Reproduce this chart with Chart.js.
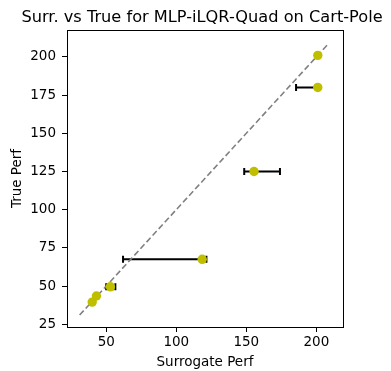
<!DOCTYPE html>
<html>
<head>
<meta charset="utf-8">
<script src="https://cdn.jsdelivr.net/npm/chart.js@4"></script>
<style>
  html, body { margin: 0; padding: 0; background: #fff; }
  canvas { display: block; }
</style>
</head>
<body>
<canvas id="chart" width="391" height="371"></canvas>
<script>
// values
const surrogatePerf = [201, 201, 155.5, 118.5, 53, 43, 40];
const truePerf = [201, 180, 125, 67.5, 49.5, 43.5, 39.5];
const errLow = [201, 185.5, 148.5, 62, 50, 43, 40];
const errHigh = [201, 201, 174, 121.5, 56.5, 43, 40];
const diagX = [31, 209];
const xTicks = [50, 100, 150, 200];
const yTicks = [25, 50, 75, 100, 125, 150, 175, 200];
const titleText = "Surr. vs True for MLP-iLQR-Quad on Cart-Pole";

const FONT = "'DejaVu Sans', sans-serif";

// horizontal error bars, drawn under the markers
const errorBars = {
	id: "errorBars",
	beforeDatasetsDraw(chart) {
		const ctx = chart.ctx;
		const xs = chart.scales.x, ys = chart.scales.y;
		ctx.save();
		ctx.strokeStyle = "#000";
		ctx.lineWidth = 2;
		for (let i = 0; i < truePerf.length; i++) {
			if (errLow[i] === errHigh[i]) continue;
			const y = ys.getPixelForValue(truePerf[i]);
			const x1 = xs.getPixelForValue(errLow[i]);
			const x2 = xs.getPixelForValue(errHigh[i]);
			ctx.beginPath();
			ctx.moveTo(x1, y); ctx.lineTo(x2, y);
			ctx.moveTo(x1, y - 3.5); ctx.lineTo(x1, y + 3.5);
			ctx.moveTo(x2, y - 3.5); ctx.lineTo(x2, y + 3.5);
			ctx.stroke();
		}
		ctx.restore();
	}
};

// box around the plot area + title over it (like matplotlib)
const frame = {
	id: "frame",
	afterDraw(chart) {
		const a = chart.chartArea;
		const ctx = chart.ctx;
		ctx.save();
		ctx.strokeStyle = "#000";
		ctx.lineWidth = 1;
		ctx.strokeRect(Math.round(a.left) + 0.5, Math.round(a.top) + 0.5,
			Math.round(a.right - a.left), Math.round(a.bottom - a.top));
		ctx.fillStyle = "#000";
		ctx.font = "16.2px " + FONT;
		ctx.textAlign = "center";
		ctx.textBaseline = "alphabetic";
		ctx.fillText(titleText, (a.left + a.right) / 2 - 3, 22);
		ctx.restore();
	}
};

new Chart(document.getElementById("chart").getContext("2d"), {
	type: "scatter",
	data: {
		datasets: [
			{
				label: "points",
				data: surrogatePerf.map((x, i) => ({ x: x, y: truePerf[i] })),
				backgroundColor: "#bfbf00",
				borderColor: "#bfbf00",
				pointRadius: 4.7,
				borderWidth: 0,
				order: 0,
			},
			{
				label: "y = x",
				type: "line",
				data: diagX.map(v => ({ x: v, y: v })),
				borderColor: "#808080",
				borderWidth: 1.6,
				borderDash: [6, 3],
				pointRadius: 0,
				fill: false,
				order: 1,
			},
		],
	},
	options: {
		responsive: false,
		animation: false,
		layout: { padding: { left: 0, right: 48, top: 30, bottom: 0 } },
		plugins: {
			legend: { display: false },
			tooltip: { enabled: false },
			title: { display: false },
		},
		scales: {
			x: {
				type: "linear",
				min: 22,
				max: 219,
				afterBuildTicks: s => { s.ticks = xTicks.map(v => ({ value: v })); },
				afterFit: s => { s.height = 44; },
				grid: { drawOnChartArea: false, drawTicks: true, tickLength: 5, color: "#000" },
				border: { display: true, color: "#000", width: 1 },
				ticks: { color: "#000", font: { family: FONT, size: 13.5 }, padding: 2, maxRotation: 0 },
				title: { display: true, text: "Surrogate Perf", color: "#000", font: { family: FONT, size: 13.5 }, padding: { top: 2, bottom: 0 } },
			},
			y: {
				type: "linear",
				min: 23.2,
				max: 217.6,
				afterBuildTicks: s => { s.ticks = yTicks.map(v => ({ value: v })); },
				afterFit: s => { s.width = 67; },
				grid: { drawOnChartArea: false, drawTicks: true, tickLength: 5, color: "#000" },
				border: { display: true, color: "#000", width: 1 },
				ticks: { color: "#000", font: { family: FONT, size: 13.5 }, padding: 6 },
				title: { display: true, text: "True Perf", color: "#000", font: { family: FONT, size: 13.5 }, padding: { top: 9, bottom: 0 } },
			},
		},
	},
	plugins: [errorBars, frame],
});
</script>
</body>
</html>
